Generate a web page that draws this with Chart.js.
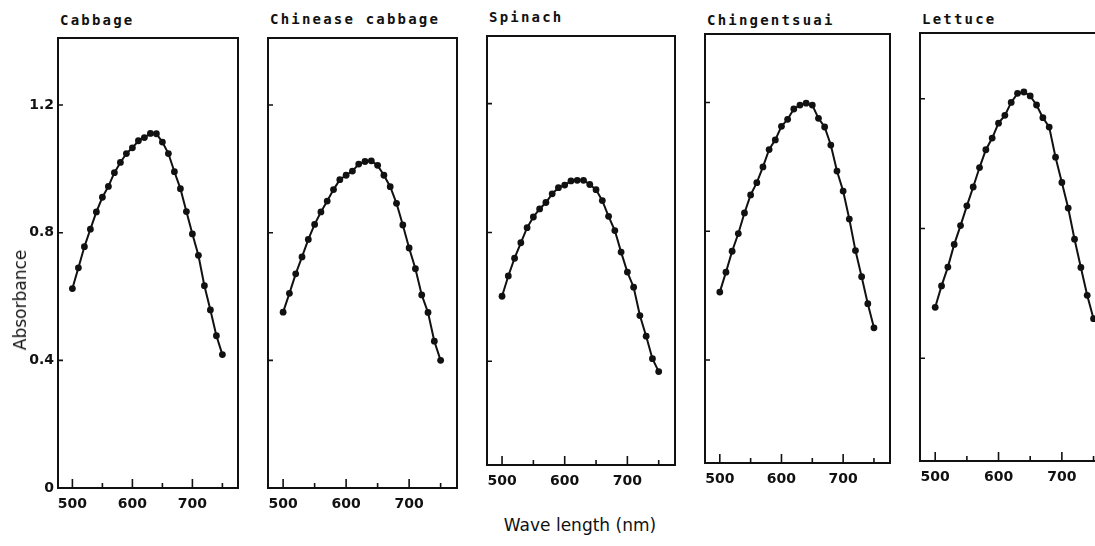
<!DOCTYPE html>
<html>
<head>
<meta charset="utf-8">
<script src="https://cdn.jsdelivr.net/npm/chart.js@4.4.1/dist/chart.umd.min.js"></script>
<style>
  html, body { margin: 0; padding: 0; background: #fff; }
  body { width: 1095px; height: 546px; position: relative; overflow: hidden; }
  canvas { position: absolute; }
  .ptitle {
    position: absolute;
    font: bold 14px "DejaVu Sans Mono", monospace;
    letter-spacing: 2.2px;
    color: #111;
    white-space: nowrap;
    transform: translateY(-50%);
  }
  .axtitle {
    position: absolute;
    font: 17px "DejaVu Sans", sans-serif;
    color: #111;
    white-space: nowrap;
  }
</style>
</head>
<body>
<script>
// wavelength (nm) of every measured point
const wavelengths = [500, 510, 520, 530, 540, 550, 560, 570, 580, 590, 600, 610, 620,
                     630, 640, 650, 660, 670, 680, 690, 700, 710, 720, 730, 740, 750];

// absorbance
const cabbage = [0.625, 0.690, 0.756, 0.811, 0.865, 0.911, 0.945, 0.988, 1.020, 1.048, 1.066, 1.088, 1.098,
                 1.111, 1.110, 1.084, 1.048, 0.991, 0.938, 0.866, 0.796, 0.729, 0.634, 0.558, 0.477, 0.418];
const chineaseCabbage = [0.551, 0.610, 0.671, 0.724, 0.779, 0.826, 0.865, 0.899, 0.935, 0.966, 0.980, 0.993, 1.015,
                         1.023, 1.025, 1.011, 0.980, 0.944, 0.892, 0.824, 0.752, 0.687, 0.605, 0.550, 0.460, 0.400];
const spinach = [0.602, 0.665, 0.720, 0.768, 0.815, 0.848, 0.873, 0.893, 0.920, 0.939, 0.947, 0.960, 0.962,
                 0.962, 0.949, 0.933, 0.899, 0.850, 0.806, 0.739, 0.677, 0.630, 0.542, 0.478, 0.408, 0.368];
const chingentsuai = [0.611, 0.673, 0.738, 0.793, 0.857, 0.913, 0.951, 1.000, 1.054, 1.084, 1.126, 1.148, 1.180,
                      1.192, 1.198, 1.192, 1.151, 1.124, 1.068, 0.987, 0.925, 0.838, 0.740, 0.659, 0.575, 0.500];
const lettuce = [0.557, 0.623, 0.681, 0.751, 0.809, 0.870, 0.928, 0.988, 1.043, 1.079, 1.125, 1.149, 1.189,
                 1.217, 1.221, 1.209, 1.181, 1.142, 1.113, 1.020, 0.942, 0.863, 0.767, 0.680, 0.594, 0.522];

const panelNames = ["Cabbage", "Chinease cabbage", "Spinach", "Chingentsuai", "Lettuce"];
const panelSeries = [cabbage, chineaseCabbage, spinach, chingentsuai, lettuce];

const xTickValues = [500, 550, 600, 650, 700, 750];
const xTickLabels = ["500", "", "600", "", "700", ""];
const yTickValues = [0, 0.4, 0.8, 1.2];
const yTickLabels = ["0", "0.4", "0.8", "1.2"];

// the last three panels were printed with the bottom of the axis trimmed
const yMins = [0, 0, 0.078, 0.08, 0.083];
const yMaxs = [1.41, 1.41, 1.41, 1.413, 1.403];

// plot box of every panel in page pixels: left, top, right, bottom
const boxes = [
    [58, 38, 238, 488],
    [268, 38, 457, 488],
    [487, 36, 675, 465],
    [705, 34, 890, 463],
    [920, 33, 1110, 461],
];
const titleY = [20, 19, 17, 20, 19];

const INK = "#111";
const tickFont = { family: "DejaVu Sans", size: 14, weight: "bold" };

// frame round the plot area + short inward tick marks
const framePlugin = {
    id: "frame",
    afterDatasetsDraw(chart) {
        const { ctx, chartArea: a, scales } = chart;
        ctx.save();
        ctx.strokeStyle = INK;
        ctx.lineWidth = 2;
        ctx.strokeRect(a.left, a.top, a.right - a.left, a.bottom - a.top);
        ctx.lineWidth = 1.6;
        ctx.beginPath();
        scales.y.ticks.forEach(t => {
            if (t.value === 0) return;
            const y = scales.y.getPixelForValue(t.value);
            ctx.moveTo(a.left, y);
            ctx.lineTo(a.left + 5, y);
        });
        scales.x.ticks.forEach(t => {
            const x = scales.x.getPixelForValue(t.value);
            const len = t.value % 100 === 0 ? 9 : 5;
            ctx.moveTo(x, a.bottom);
            ctx.lineTo(x, a.bottom - len);
        });
        ctx.stroke();
        ctx.restore();
    },
};

function noPad(s) {
    s.paddingTop = 0;
    s.paddingBottom = 0;
    s.paddingLeft = 0;
    s.paddingRight = 0;
}

boxes.forEach((b, i) => {
    const [L, T, R, B] = b;
    const first = i === 0;
    const padL = first ? 2 : 0;
    const axisW = first ? L - padL : 4;
    const padTop = 4, padR = 4, xAxisH = 30;

    const cv = document.createElement("canvas");
    cv.width = padL + axisW + (R - L) + padR;
    cv.height = padTop + (B - T) + xAxisH;
    cv.style.left = (L - axisW - padL) + "px";
    cv.style.top = (T - padTop) + "px";
    document.body.appendChild(cv);

    const title = document.createElement("div");
    title.className = "ptitle";
    title.textContent = panelNames[i];
    title.style.left = (L + 2) + "px";
    title.style.top = titleY[i] + "px";
    document.body.appendChild(title);

    new Chart(cv.getContext("2d"), {
        type: "line",
        data: {
            datasets: [{
                data: wavelengths.map((w, k) => ({ x: w, y: panelSeries[i][k] })),
                borderColor: INK,
                borderWidth: 2,
                pointRadius: 3.4,
                pointBackgroundColor: INK,
                pointBorderWidth: 0,
                tension: 0,
            }],
        },
        options: {
            responsive: false,
            animation: false,
            events: [],
            layout: { padding: { left: padL, top: padTop, right: padR, bottom: 0 } },
            plugins: {
                legend: { display: false },
                tooltip: { enabled: false },
            },
            scales: {
                x: {
                    type: "linear",
                    min: 476,
                    max: 776,
                    afterBuildTicks: s => { s.ticks = xTickValues.map(v => ({ value: v })); },
                    afterFit: s => { s.height = xAxisH; noPad(s); },
                    ticks: {
                        callback: (v, idx) => xTickLabels[idx],
                        font: tickFont,
                        color: INK,
                        padding: 8,
                        maxRotation: 0,
                        autoSkip: false,
                    },
                    grid: { display: false, drawTicks: false },
                    border: { display: false },
                },
                y: {
                    min: yMins[i],
                    max: yMaxs[i],
                    afterBuildTicks: s => { s.ticks = yTickValues.map(v => ({ value: v })); },
                    afterFit: s => { s.width = axisW; noPad(s); },
                    ticks: {
                        display: first,
                        callback: (v, idx) => yTickLabels[idx],
                        font: tickFont,
                        color: INK,
                        padding: 4,
                    },
                    grid: { display: false, drawTicks: false },
                    border: { display: false },
                },
            },
        },
        plugins: [framePlugin],
    });
});

// shared axis titles
const yTitle = document.createElement("div");
yTitle.className = "axtitle";
yTitle.textContent = "Absorbance";
yTitle.style.left = "20px";
yTitle.style.top = "300px";
yTitle.style.transform = "translate(-50%, -50%) rotate(-90deg)";
document.body.appendChild(yTitle);

const xTitle = document.createElement("div");
xTitle.className = "axtitle";
xTitle.textContent = "Wave length (nm)";
xTitle.style.left = "580px";
xTitle.style.top = "525px";
xTitle.style.transform = "translate(-50%, -50%)";
document.body.appendChild(xTitle);
</script>
</body>
</html>
